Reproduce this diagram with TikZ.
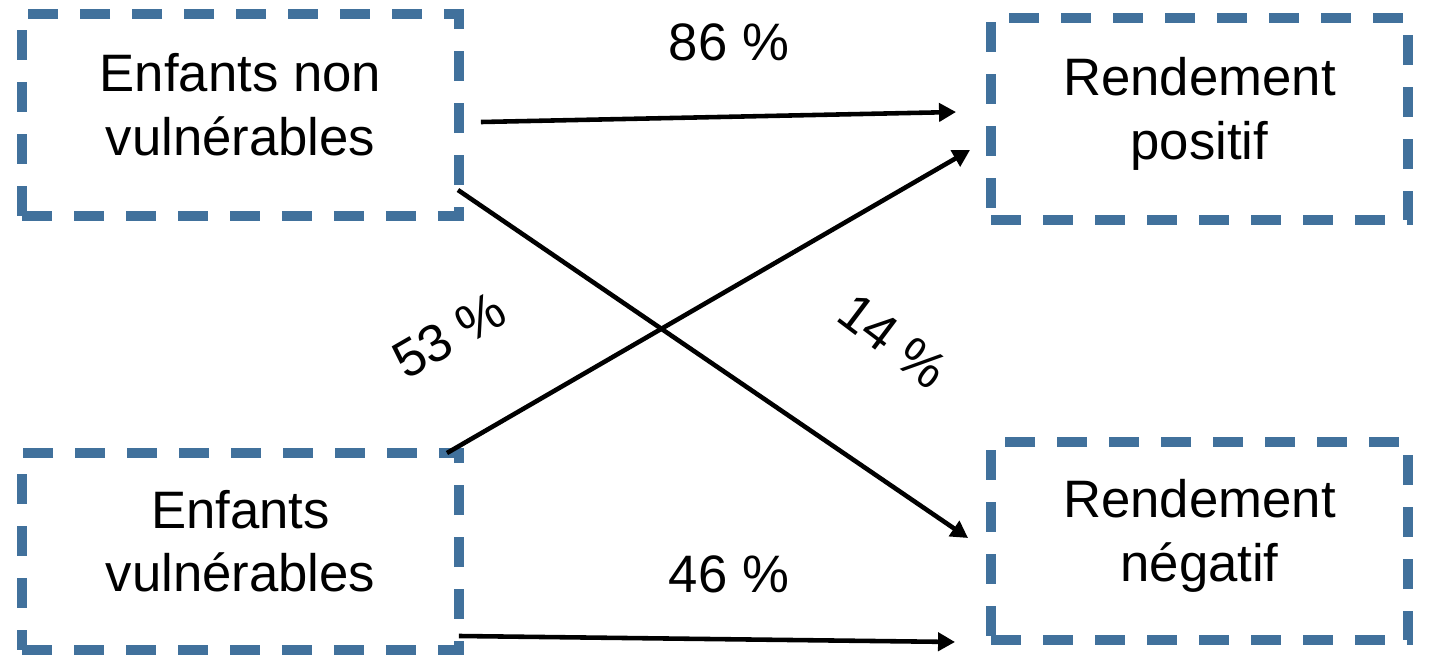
\documentclass[tikz,border=0pt]{standalone}
\usepackage{fontspec}
\setmainfont{Liberation Sans}
\usepackage{tikz}
\usetikzlibrary{arrows.meta,calc}
\definecolor{boxblue}{HTML}{41719C}
\tikzset{
    groupbox/.style={draw=boxblue,line width=5.5pt,dash pattern=on 0.6cm off 0.44cm,
      minimum width=8.74cm,minimum height=4.04cm,inner sep=0pt,outer sep=0pt,
      align=center,text depth=12pt},
    flowarrow/.style={-{Triangle[length=3.4mm,width=3.6mm]},draw=black,
      line width=2.6pt},
    ratelabel/.style={inner sep=0pt,text=black}
}

\begin{document}
\begin{tikzpicture}[x=0.02cm,y=-0.02cm,font=\fontsize{30}{36}\selectfont]
  \useasboundingbox (0,0) rectangle (1443,657);
  % groups and outcomes
  \node[groupbox] (nonvul) at (240.5,115) {Enfants non\\vulnérables};
  \node[groupbox,minimum height=3.94cm] (vul) at (240.5,551.5) {Enfants\\vulnérables};
  \node[groupbox,minimum width=8.34cm] (posit) at (1199.5,119) {Rendement\\positif};
  \node[groupbox,minimum width=8.34cm,minimum height=3.96cm] (neg) at (1199.5,541) {Rendement\\négatif};
  % transitions
  \draw[flowarrow] ($(nonvul.east)+(22,7)$) -- ($(posit.west)+(-35,-7)$);
  \draw[flowarrow] ($(vul.north east)+(-12,0)$) -- ($(posit.west)+(-21,31)$);
  \draw[flowarrow] ($(nonvul.south east)+(-1,-26)$) -- ($(neg.west)+(-23,-3)$);
  \draw[flowarrow] ($(vul.south east)+(0,-14)$) -- ($(neg.south west)+(-36,2)$);
  % rates
  \node[ratelabel] (r86) at (729,42) {86 \%};
  \node[ratelabel,rotate=30] (r53) at (449,335) {53 \%};
  \node[ratelabel,rotate=-37] (r14) at (893,341) {14 \%};
  \node[ratelabel] (r46) at (729,574) {46 \%};
\end{tikzpicture}
\end{document}
